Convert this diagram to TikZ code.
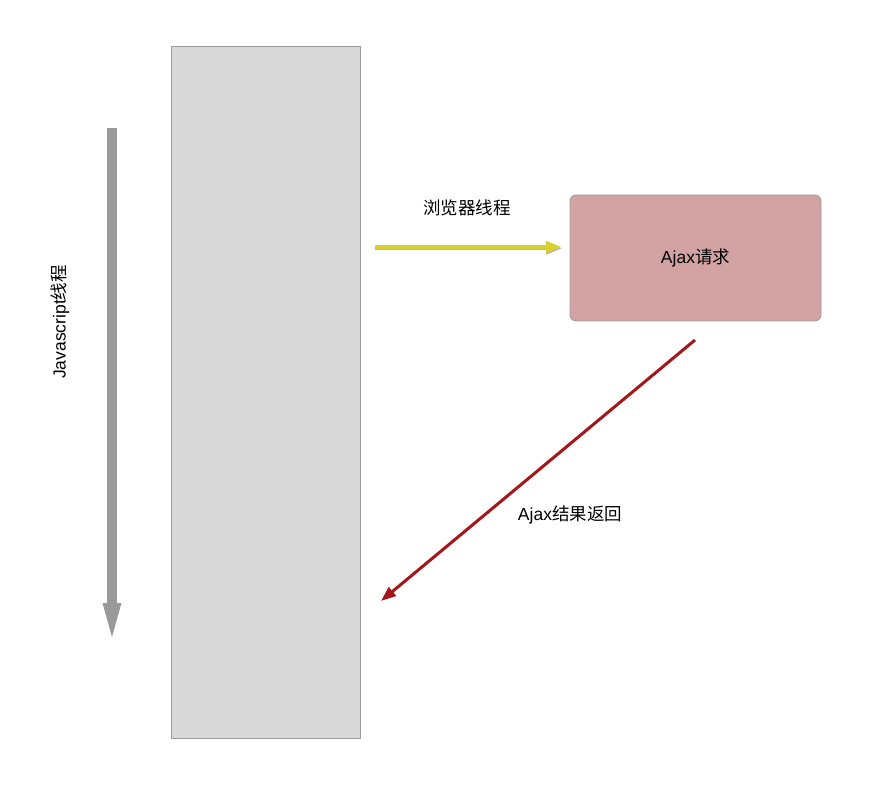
\documentclass[tikz,border=0pt]{standalone}
\usepackage{fontspec}
\setmainfont{Liberation Sans}
\newfontfamily\cjk{Noto Sans CJK SC}
\usetikzlibrary{arrows.meta}
\definecolor{colgray}{HTML}{D8D8D8}
\definecolor{edgegray}{HTML}{9B9B9B}
\definecolor{jsgray}{HTML}{999999}
\definecolor{ajaxrose}{HTML}{D3A2A2}
\definecolor{threadyellow}{HTML}{D9D22C}
\definecolor{backred}{HTML}{A3161A}
\tikzset{
  label text/.style={font=\fontsize{17.5}{21}\selectfont, inner sep=0pt},
  yellow arrow/.style={line width=4pt, draw=threadyellow,
    -{Triangle[length=16pt,width=11pt]}},
  red arrow/.style={line width=3pt, draw=backred,
    -{Triangle[length=15pt,width=11pt]}}
}
\begin{document}
\begin{tikzpicture}[x=1pt,y=-1pt]
    \useasboundingbox (0,0) rectangle (879,786);
    % javascript thread
    \draw[draw=edgegray, fill=colgray, line width=0.8pt] (171,46) rectangle (360,738);
    \coordinate (jstop) at (112,128);
    \coordinate (jsend) at (112,637);
    \draw[draw=jsgray, line width=10pt,
      -{Triangle[length=34pt,width=19pt,line width=0pt]}] (jstop) -- (jsend);
    \node[label text, rotate=90] (jslabel) at (60,322) {Javascript{\cjk 线程}};
    % browser thread
    \node[draw=edgegray, fill=ajaxrose, line width=0.8pt, rounded corners=6pt,
      minimum width=251pt, minimum height=126pt, label text] (ajax) at (695.5,258)
      {Ajax{\cjk 请求}};
    \coordinate (reqstart) at (375,247);
    \coordinate (reqend) at (562,247);
    \draw[yellow arrow, draw=black, opacity=0.3, transform canvas={yshift=-1.5pt}]
      (reqstart) -- (reqend);
    \draw[yellow arrow] (reqstart) -- (reqend);
    \node[label text] (reqlabel) at (467,208) {\cjk 浏览器线程};
    % result back
    \coordinate (retstart) at (695,340);
    \coordinate (retend) at (381,601);
    \draw[red arrow] (retstart) -- (retend);
    \node[label text] (retlabel) at (570,515) {Ajax{\cjk 结果返回}};
  \end{tikzpicture}
\end{document}
